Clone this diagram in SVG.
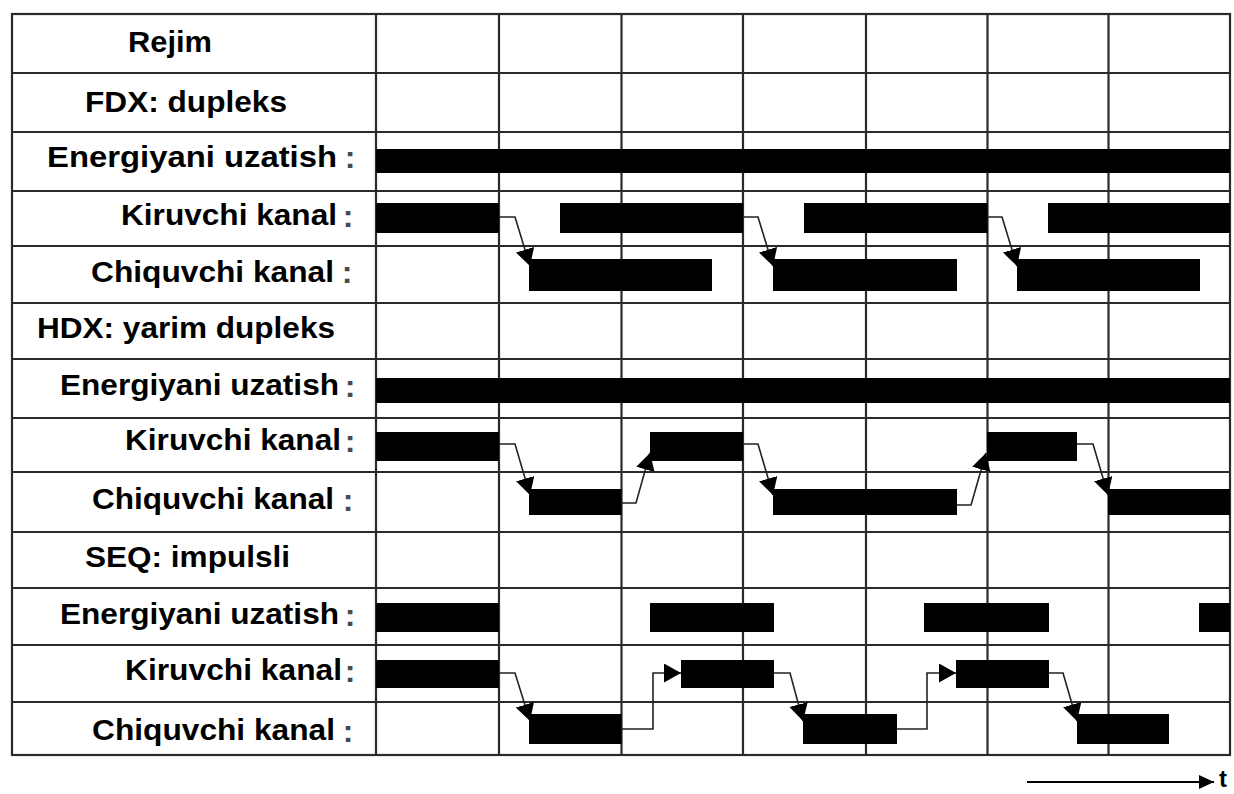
<svg xmlns="http://www.w3.org/2000/svg" width="1234" height="794" viewBox="0 0 1234 794">
<style>
.lbl{font-family:"Liberation Sans",Arial,sans-serif;font-weight:bold;font-size:29px;fill:#000}
.col{font-family:"Liberation Sans",Arial,sans-serif;font-weight:bold;font-size:32px;fill:#4a4a4a;text-anchor:middle}
.grid{stroke:#2a2a2a;stroke-width:2.2;fill:none}
.bar{fill:#000}
.conn{stroke:#222;stroke-width:1.6;fill:none}
</style>
<defs>
<marker id="ah" viewBox="0 0 17 19" refX="17" refY="9.5" markerWidth="17" markerHeight="19" markerUnits="userSpaceOnUse" orient="auto"><path d="M0,0 L17,9.5 L0,19 z" fill="#000"/></marker>
<marker id="at" viewBox="0 0 15 14" refX="15" refY="7" markerWidth="15" markerHeight="14" markerUnits="userSpaceOnUse" orient="auto"><path d="M0,0 L15,7 L0,14 z" fill="#000"/></marker>
</defs>
<rect width="1234" height="794" fill="#fff"/>
<g id="grid">
<rect class="grid" x="12" y="14" width="1218" height="741" stroke-width="2.6"/>
<path class="grid" d="M376 14V755M499 14V755M621.5 14V755M743 14V755M866 14V755M987.5 14V755M1108.5 14V755"/>
<path class="grid" d="M12 73H1230M12 132H1230M12 191H1230M12 246H1230M12 303H1230M12 359H1230M12 418H1230M12 472H1230M12 532H1230M12 588H1230M12 645H1230M12 702H1230"/>
</g>
<g id="labels">
<text class="lbl" x="128" y="52" textLength="84" lengthAdjust="spacingAndGlyphs">Rejim</text>
<text class="lbl" x="85" y="111.5" textLength="202" lengthAdjust="spacingAndGlyphs">FDX: dupleks</text>
<text class="lbl" x="47" y="166.5" textLength="290" lengthAdjust="spacingAndGlyphs">Energiyani uzatish</text>
<text class="col" x="350" y="168">:</text>
<text class="lbl" x="121" y="225" textLength="216" lengthAdjust="spacingAndGlyphs">Kiruvchi kanal</text>
<text class="col" x="348" y="227">:</text>
<text class="lbl" x="91" y="281.5" textLength="243" lengthAdjust="spacingAndGlyphs">Chiquvchi kanal</text>
<text class="col" x="347" y="283">:</text>
<text class="lbl" x="37" y="338" textLength="298" lengthAdjust="spacingAndGlyphs">HDX: yarim dupleks</text>
<text class="lbl" x="60" y="395" textLength="279" lengthAdjust="spacingAndGlyphs">Energiyani uzatish</text>
<text class="col" x="350" y="397">:</text>
<text class="lbl" x="125" y="450" textLength="216" lengthAdjust="spacingAndGlyphs">Kiruvchi kanal</text>
<text class="col" x="350" y="452">:</text>
<text class="lbl" x="92" y="509" textLength="242" lengthAdjust="spacingAndGlyphs">Chiquvchi kanal</text>
<text class="col" x="348" y="511">:</text>
<text class="lbl" x="85" y="566.5" textLength="205" lengthAdjust="spacingAndGlyphs">SEQ: impulsli</text>
<text class="lbl" x="60" y="624" textLength="279" lengthAdjust="spacingAndGlyphs">Energiyani uzatish</text>
<text class="col" x="350" y="626">:</text>
<text class="lbl" x="125" y="680" textLength="217" lengthAdjust="spacingAndGlyphs">Kiruvchi kanal</text>
<text class="col" x="350" y="682">:</text>
<text class="lbl" x="92" y="740" textLength="243" lengthAdjust="spacingAndGlyphs">Chiquvchi kanal</text>
<text class="col" x="348" y="742">:</text>
</g>
<g id="fdx-bars">
<rect class="bar" x="376" y="149" width="854" height="24"/>
<rect class="bar" x="376" y="203" width="123" height="30"/>
<rect class="bar" x="560" y="203" width="183" height="30"/>
<rect class="bar" x="804" y="203" width="183.5" height="30"/>
<rect class="bar" x="1048" y="203" width="182" height="30"/>
<rect class="bar" x="529" y="259" width="183" height="32"/>
<rect class="bar" x="773" y="259" width="184" height="32"/>
<rect class="bar" x="1017" y="259" width="183" height="32"/>
</g>
<g id="hdx-bars">
<rect class="bar" x="376" y="378" width="854" height="25"/>
<rect class="bar" x="376" y="432" width="123" height="29"/>
<rect class="bar" x="650" y="432" width="93" height="29"/>
<rect class="bar" x="987" y="432" width="90" height="29"/>
<rect class="bar" x="529" y="489" width="92.5" height="26"/>
<rect class="bar" x="773" y="489" width="184" height="26"/>
<rect class="bar" x="1108" y="489" width="122" height="26"/>
</g>
<g id="seq-bars">
<rect class="bar" x="376" y="603" width="123" height="29"/>
<rect class="bar" x="650" y="603" width="124" height="29"/>
<rect class="bar" x="924" y="603" width="125" height="29"/>
<rect class="bar" x="1199" y="603" width="31" height="29"/>
<rect class="bar" x="376" y="660" width="123" height="28"/>
<rect class="bar" x="681" y="660" width="93" height="28"/>
<rect class="bar" x="956" y="660" width="93" height="28"/>
<rect class="bar" x="529" y="714" width="92.5" height="30"/>
<rect class="bar" x="803" y="714" width="94" height="30"/>
<rect class="bar" x="1077" y="714" width="92" height="30"/>
</g>
<g id="connectors">
<polyline class="conn" points="499,217 515,217 530,266" marker-end="url(#ah)"/>
<polyline class="conn" points="743,217 758,217 773,266" marker-end="url(#ah)"/>
<polyline class="conn" points="987,217 1002,217 1017,266" marker-end="url(#ah)"/>
<polyline class="conn" points="499,444 515,444 530,495" marker-end="url(#ah)"/>
<polyline class="conn" points="743,444 758,444 773,495" marker-end="url(#ah)"/>
<polyline class="conn" points="1077,444 1093,444 1108,495" marker-end="url(#ah)"/>
<polyline class="conn" points="621,503 636,503 650,453" marker-end="url(#ah)"/>
<polyline class="conn" points="957,505 971,505 986,453" marker-end="url(#ah)"/>
<polyline class="conn" points="499,673 515,673 530,721" marker-end="url(#ah)"/>
<polyline class="conn" points="774,673 790,673 803,721" marker-end="url(#ah)"/>
<polyline class="conn" points="1049,673 1063,673 1077,721" marker-end="url(#ah)"/>
<polyline class="conn" points="621,729 653,729 653,673 681,673" marker-end="url(#ah)"/>
<polyline class="conn" points="897,729 927,729 927,673 956,673" marker-end="url(#ah)"/>
</g>
<g id="time-axis">
<line x1="1027" y1="782" x2="1214" y2="782" stroke="#000" stroke-width="2" marker-end="url(#at)"/>
<text class="lbl" x="1219" y="787" style="font-size:24px">t</text>
</g>
</svg>
